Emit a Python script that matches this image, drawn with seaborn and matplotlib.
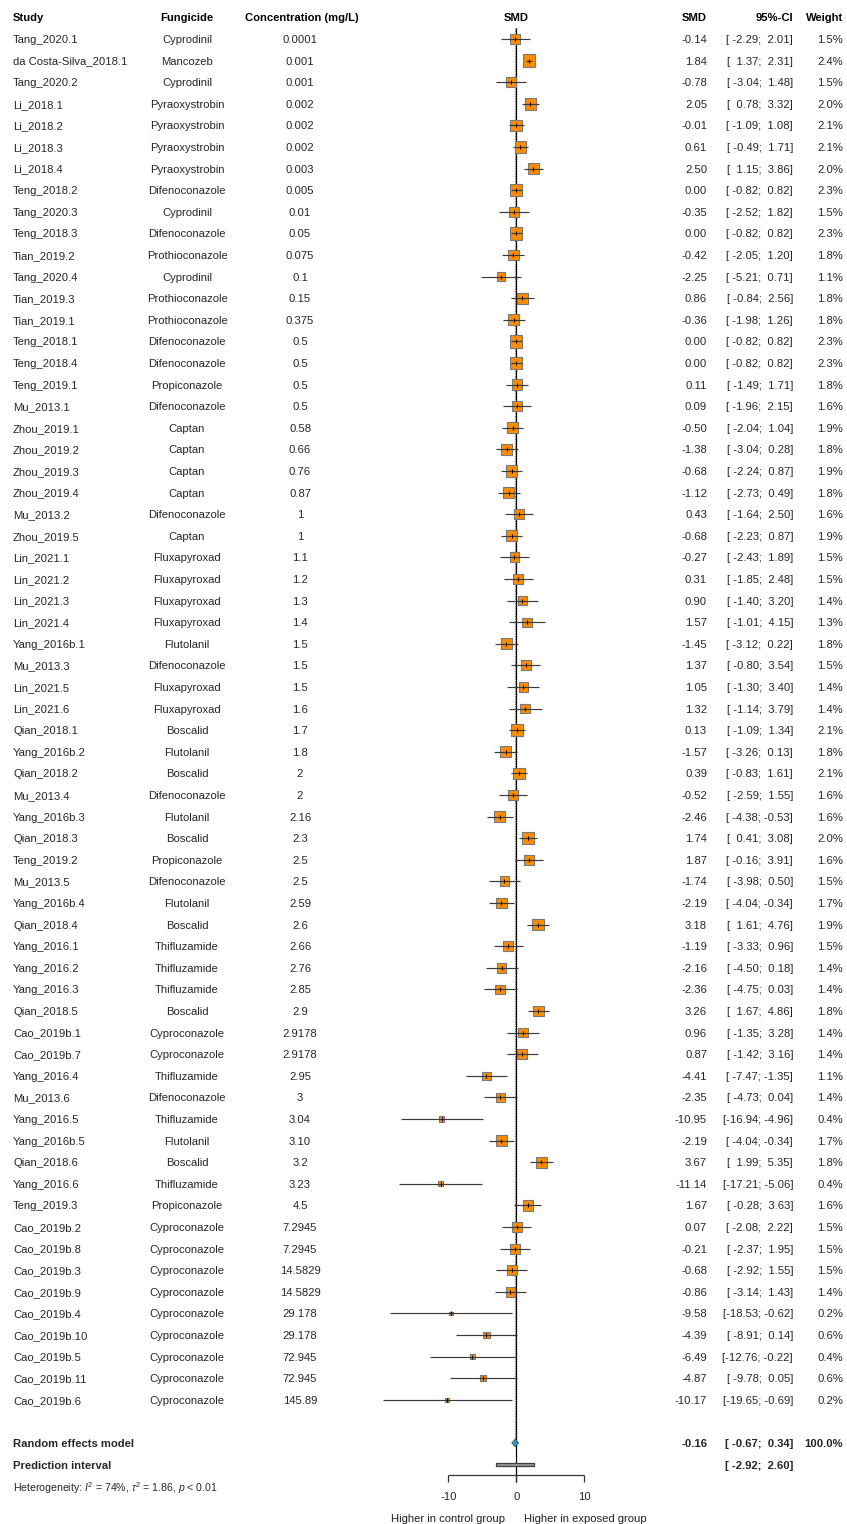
import numpy as np
import pandas as pd
import matplotlib
matplotlib.use("Agg")
import matplotlib.pyplot as plt
import seaborn as sns

# ---------------- data ----------------
study = ["Tang_2020.1", "da Costa-Silva_2018.1", "Tang_2020.2", "Li_2018.1", "Li_2018.2", "Li_2018.3",
         "Li_2018.4", "Teng_2018.2", "Tang_2020.3", "Teng_2018.3", "Tian_2019.2", "Tang_2020.4",
         "Tian_2019.3", "Tian_2019.1", "Teng_2018.1", "Teng_2018.4", "Teng_2019.1", "Mu_2013.1",
         "Zhou_2019.1", "Zhou_2019.2", "Zhou_2019.3", "Zhou_2019.4", "Mu_2013.2", "Zhou_2019.5",
         "Lin_2021.1", "Lin_2021.2", "Lin_2021.3", "Lin_2021.4", "Yang_2016b.1", "Mu_2013.3",
         "Lin_2021.5", "Lin_2021.6", "Qian_2018.1", "Yang_2016b.2", "Qian_2018.2", "Mu_2013.4",
         "Yang_2016b.3", "Qian_2018.3", "Teng_2019.2", "Mu_2013.5", "Yang_2016b.4", "Qian_2018.4",
         "Yang_2016.1", "Yang_2016.2", "Yang_2016.3", "Qian_2018.5", "Cao_2019b.1", "Cao_2019b.7",
         "Yang_2016.4", "Mu_2013.6", "Yang_2016.5", "Yang_2016b.5", "Qian_2018.6", "Yang_2016.6",
         "Teng_2019.3", "Cao_2019b.2", "Cao_2019b.8", "Cao_2019b.3", "Cao_2019b.9", "Cao_2019b.4",
         "Cao_2019b.10", "Cao_2019b.5", "Cao_2019b.11", "Cao_2019b.6"]
fungicide = ["Cyprodinil", "Mancozeb", "Cyprodinil", "Pyraoxystrobin", "Pyraoxystrobin", "Pyraoxystrobin",
             "Pyraoxystrobin", "Difenoconazole", "Cyprodinil", "Difenoconazole", "Prothioconazole", "Cyprodinil",
             "Prothioconazole", "Prothioconazole", "Difenoconazole", "Difenoconazole", "Propiconazole", "Difenoconazole",
             "Captan", "Captan", "Captan", "Captan", "Difenoconazole", "Captan",
             "Fluxapyroxad", "Fluxapyroxad", "Fluxapyroxad", "Fluxapyroxad", "Flutolanil", "Difenoconazole",
             "Fluxapyroxad", "Fluxapyroxad", "Boscalid", "Flutolanil", "Boscalid", "Difenoconazole",
             "Flutolanil", "Boscalid", "Propiconazole", "Difenoconazole", "Flutolanil", "Boscalid",
             "Thifluzamide", "Thifluzamide", "Thifluzamide", "Boscalid", "Cyproconazole", "Cyproconazole",
             "Thifluzamide", "Difenoconazole", "Thifluzamide", "Flutolanil", "Boscalid", "Thifluzamide",
             "Propiconazole", "Cyproconazole", "Cyproconazole", "Cyproconazole", "Cyproconazole", "Cyproconazole",
             "Cyproconazole", "Cyproconazole", "Cyproconazole", "Cyproconazole"]
concentration = ["0.0001", "0.001", "0.001", "0.002", "0.002", "0.002",
                 "0.003", "0.005", "0.01", "0.05", "0.075", "0.1",
                 "0.15", "0.375", "0.5", "0.5", "0.5", "0.5",
                 "0.58", "0.66", "0.76", "0.87", "1", "1",
                 "1.1", "1.2", "1.3", "1.4", "1.5", "1.5",
                 "1.5", "1.6", "1.7", "1.8", "2", "2",
                 "2.16", "2.3", "2.5", "2.5", "2.59", "2.6",
                 "2.66", "2.76", "2.85", "2.9", "2.9178", "2.9178",
                 "2.95", "3", "3.04", "3.10", "3.2", "3.23",
                 "4.5", "7.2945", "7.2945", "14.5829", "14.5829", "29.178",
                 "29.178", "72.945", "72.945", "145.89"]
smd = [-0.14, 1.84, -0.78, 2.05, -0.01, 0.61,
       2.50, 0.00, -0.35, 0.00, -0.42, -2.25,
       0.86, -0.36, 0.00, 0.00, 0.11, 0.09,
       -0.50, -1.38, -0.68, -1.12, 0.43, -0.68,
       -0.27, 0.31, 0.90, 1.57, -1.45, 1.37,
       1.05, 1.32, 0.13, -1.57, 0.39, -0.52,
       -2.46, 1.74, 1.87, -1.74, -2.19, 3.18,
       -1.19, -2.16, -2.36, 3.26, 0.96, 0.87,
       -4.41, -2.35, -10.95, -2.19, 3.67, -11.14,
       1.67, 0.07, -0.21, -0.68, -0.86, -9.58,
       -4.39, -6.49, -4.87, -10.17]
ci_lower = [-2.29, 1.37, -3.04, 0.78, -1.09, -0.49,
            1.15, -0.82, -2.52, -0.82, -2.05, -5.21,
            -0.84, -1.98, -0.82, -0.82, -1.49, -1.96,
            -2.04, -3.04, -2.24, -2.73, -1.64, -2.23,
            -2.43, -1.85, -1.40, -1.01, -3.12, -0.80,
            -1.30, -1.14, -1.09, -3.26, -0.83, -2.59,
            -4.38, 0.41, -0.16, -3.98, -4.04, 1.61,
            -3.33, -4.50, -4.75, 1.67, -1.35, -1.42,
            -7.47, -4.73, -16.94, -4.04, 1.99, -17.21,
            -0.28, -2.08, -2.37, -2.92, -3.14, -18.53,
            -8.91, -12.76, -9.78, -19.65]
ci_upper = [2.01, 2.31, 1.48, 3.32, 1.08, 1.71,
            3.86, 0.82, 1.82, 0.82, 1.20, 0.71,
            2.56, 1.26, 0.82, 0.82, 1.71, 2.15,
            1.04, 0.28, 0.87, 0.49, 2.50, 0.87,
            1.89, 2.48, 3.20, 4.15, 0.22, 3.54,
            3.40, 3.79, 1.34, 0.13, 1.61, 1.55,
            -0.53, 3.08, 3.91, 0.50, -0.34, 4.76,
            0.96, 0.18, 0.03, 4.86, 3.28, 3.16,
            -1.35, 0.04, -4.96, -0.34, 5.35, -5.06,
            3.63, 2.22, 1.95, 1.55, 1.43, -0.62,
            0.14, -0.22, 0.05, -0.69]
weight = [1.5, 2.4, 1.5, 2.0, 2.1, 2.1,
          2.0, 2.3, 1.5, 2.3, 1.8, 1.1,
          1.8, 1.8, 2.3, 2.3, 1.8, 1.6,
          1.9, 1.8, 1.9, 1.8, 1.6, 1.9,
          1.5, 1.5, 1.4, 1.3, 1.8, 1.5,
          1.4, 1.4, 2.1, 1.8, 2.1, 1.6,
          1.6, 2.0, 1.6, 1.5, 1.7, 1.9,
          1.5, 1.4, 1.4, 1.8, 1.4, 1.4,
          1.1, 1.4, 0.4, 1.7, 1.8, 0.4,
          1.6, 1.5, 1.5, 1.5, 1.4, 0.2,
          0.6, 0.4, 0.6, 0.2]

re_est, re_lower, re_upper, re_weight = -0.16, -0.67, 0.34, 100.0
pi_lower, pi_upper = -2.92, 2.60
het_I2, het_tau2, het_p = "74%", "1.86", "0.01"
axis_ticks = [-10, 0, 10]

headers = ["Study", "Fungicide", "Concentration (mg/L)", "SMD", "SMD", "95%-CI", "Weight"]

# ---------------- style ----------------
sns.set_theme(style="white")
plt.rcParams["font.family"] = ["Liberation Sans", "DejaVu Sans"]
plt.rcParams["mathtext.fontset"] = "custom"
plt.rcParams["mathtext.rm"] = "Liberation Sans"
plt.rcParams["mathtext.it"] = "Liberation Sans:italic"
plt.rcParams["mathtext.bf"] = "Liberation Sans:bold"

W, H = 847, 1524
fig = plt.figure(figsize=(W / 100, H / 100), dpi=100)
ax = fig.add_axes([0, 0, 1, 1])

X0, XS = 516.3, 6.8      # pixel of SMD=0, pixels per unit
Y0, YS = 17.4, 21.6      # pixel of header row, pixels per row


def px2x(p):
    return (p - X0) / XS


def py2r(p):
    return (p - Y0) / YS


ax.set_xlim(px2x(0), px2x(W))
ax.set_ylim(py2r(H), py2r(0))
ax.axis("off")

df = pd.DataFrame({"study": study, "fungicide": fungicide, "conc": concentration,
                   "smd": smd, "lo": ci_lower, "hi": ci_upper, "w": weight})
df["row"] = np.arange(1, len(df) + 1)
n = len(df)
row_re = n + 2
row_pi = n + 3
row_het = n + 4

FS = 8.1
VA = "center_baseline"
fx = lambda p: p / W  # axes-fraction x
tr = ax.get_yaxis_transform()  # x in axes fraction, y in data

# ---- reference lines ----
top_r = py2r(28)
axis_r = py2r(1475)
tick_r = py2r(1482)
ax.vlines(0, top_r, tick_r, color="black", lw=0.9, zorder=1)
ax.vlines(re_est, top_r, row_re, color="#707070", lw=0.9, linestyles=(0, (1, 1)), zorder=1)

# ---- study squares, CI lines, ticks ----
K = 34.0
sns.scatterplot(data=df, x="smd", y="row", size="w", sizes=(K * 0.2, K * 2.4),
                size_norm=(0.2, 2.4), marker="s", color="#FF8C00", edgecolor="#7a7a7a",
                linewidth=0.8, legend=False, ax=ax, zorder=2)
ax.hlines(df["row"], df["lo"], df["hi"], color="#3a3a3a", lw=0.85, zorder=3)
ax.scatter(df["smd"], df["row"], marker="|", s=10, color="black", linewidths=0.8, zorder=4)

# ---- summary diamond ----
dh = 0.18
ax.fill([re_lower, re_est, re_upper, re_est], [row_re, row_re - dh, row_re, row_re + dh],
        facecolor="#1E9BD7", edgecolor="#505050", lw=0.6, zorder=5)

# ---- prediction interval ----
ph = 0.08
ax.fill_between([pi_lower, pi_upper], row_pi - ph, row_pi + ph,
                facecolor="#9a9a9a", edgecolor="#404040", lw=0.9, zorder=5)

# ---- x axis ----
ax.hlines(axis_r, min(axis_ticks), max(axis_ticks), color="#333333", lw=0.9)
ax.vlines(axis_ticks, axis_r, tick_r, color="#333333", lw=0.9)
for t in axis_ticks:
    ax.text(t, py2r(1496), f"{t}", ha="center", va=VA, fontsize=FS, color="#222222")
ax.text(px2x(505), py2r(1518), "Higher in control group", ha="right", va=VA,
        fontsize=FS, color="#222222")
ax.text(px2x(524), py2r(1518), "Higher in exposed group", ha="left", va=VA,
        fontsize=FS, color="#222222")

# ---- header ----
hx = [(13, "left"), (187, "center"), (302, "center"), (X0, "center"),
      (707, "right"), (793, "right"), (843, "right")]
for (x, ha), lab in zip(hx, headers):
    ax.text(fx(x), 0, lab, transform=tr, ha=ha, va=VA, fontsize=FS,
            fontweight="bold", color="black")

# ---- study rows ----
for _, r in df.iterrows():
    y = r["row"]
    ax.text(fx(13), y, r["study"], transform=tr, ha="left", va=VA, fontsize=FS)
    ax.text(fx(187), y, r["fungicide"], transform=tr, ha="center", va=VA, fontsize=FS)
    ax.text(fx(300), y, r["conc"], transform=tr, ha="center", va=VA, fontsize=FS)
    ax.text(fx(707), y, f"{r['smd']:.2f}", transform=tr, ha="right", va=VA, fontsize=FS)
    ax.text(fx(793), y, f"[{r['lo']:6.2f}; {r['hi']:5.2f}]", transform=tr, ha="right",
            va=VA, fontsize=FS)
    ax.text(fx(843), y, f"{r['w']:.1f}%", transform=tr, ha="right", va=VA, fontsize=FS)

# ---- summary rows ----
ax.text(fx(13), row_re, "Random effects model", transform=tr, ha="left", va=VA,
        fontsize=FS, fontweight="bold")
ax.text(fx(707), row_re, f"{re_est:.2f}", transform=tr, ha="right", va=VA,
        fontsize=FS, fontweight="bold")
ax.text(fx(793), row_re, f"[{re_lower:6.2f}; {re_upper:5.2f}]", transform=tr, ha="right",
        va=VA, fontsize=FS, fontweight="bold")
ax.text(fx(843), row_re, f"{re_weight:.1f}%", transform=tr, ha="right", va=VA,
        fontsize=FS, fontweight="bold")
ax.text(fx(13), row_pi, "Prediction interval", transform=tr, ha="left", va=VA,
        fontsize=FS, fontweight="bold")
ax.text(fx(793), row_pi, f"[{pi_lower:6.2f}; {pi_upper:5.2f}]", transform=tr, ha="right",
        va=VA, fontsize=FS, fontweight="bold")
ax.text(fx(13), row_het,
        r"Heterogeneity: $I^2$ = " + het_I2 + r", $\tau^2$ = " + het_tau2
        + r", $p$ < " + het_p,
        transform=tr, ha="left", va=VA, fontsize=7.6)

fig.savefig("out.png", dpi=100, facecolor="white")
